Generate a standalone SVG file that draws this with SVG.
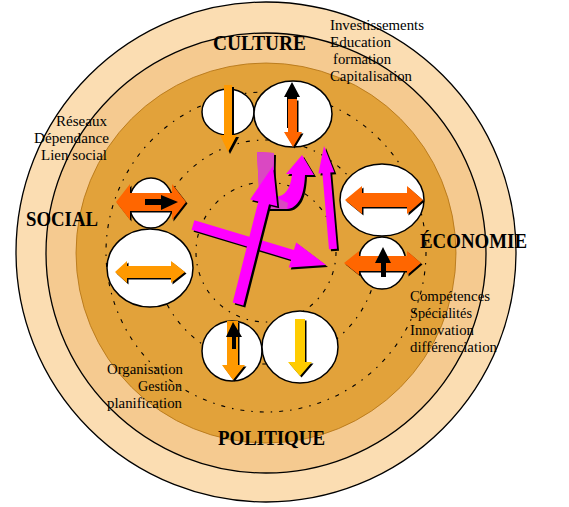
<svg xmlns="http://www.w3.org/2000/svg" xmlns:xlink="http://www.w3.org/1999/xlink" width="569" height="507" viewBox="0 0 569 507">
<style>
.ring{stroke:#000;stroke-width:1.3}
.bub{fill:#fff;stroke:#000;stroke-width:1.5}
.dash{fill:none;stroke:#000;stroke-width:1.1;stroke-dasharray:4 7 1.5 7}
.sh{fill:#000}
.title{font-family:"Liberation Serif","Times New Roman",serif;font-weight:bold;font-size:20px;fill:#000}
.small{font-family:"Liberation Serif","Times New Roman",serif;font-size:14px;fill:#000}
.red{fill:#FF6600}.org{fill:#FF9900}.yel{fill:#FFCC00}.mag{fill:#FF00FF}.blk{fill:#000}
</style>
<defs>
<polygon id="arC" points="116,202 130,184 130,193 172,193 172,184 186,202 172,220 172,211 130,211 130,220"/>
<polygon id="arCb" points="145,199 161,199 161,195 178,202 161,210 161,205 145,205"/>
<polygon id="arD" points="115,272 127,261 127,266 171,266 171,261 185,272 171,283 171,278 127,278 127,283"/>
<polygon id="arE" points="345,200 362,186 362,193 407,193 407,186 423,200 407,214 407,207 362,207 362,214"/>
<polygon id="arF" points="344,263 359,251 359,256 407,256 407,251 421,263 407,275 407,271 359,271 359,275"/>
<polygon id="arFb" points="383,247 391,263 386,263 386,277 381,277 381,263 375,263"/>
<polygon id="arA" points="224,85 232,85 232,135 237,135 228,152 220,135 224,135"/>
<polygon id="arBb" points="292,82 300,97 297,97 297,128 287,128 287,97 284,97"/>
<polygon id="arB" points="288,99 297,99 297,132 302,132 293,147 284,132 288,132"/>
<polygon id="arG" points="227,321 238,321 238,365 245,365 233,380 222,365 227,365"/>
<polygon id="arGb" points="233,322 242,337 236,337 236,349 232,349 232,337 226,337"/>
<polygon id="arH" points="295,319 305,319 305,362 312,362 300,376 288,362 295,362"/>
<polygon id="m1" points="194.4,220.2 293.9,250.1 296.2,242.4 326,265 288.8,267.4 291.1,259.7 191.6,229.8"/>
<path id="m2" d="M257,152 L274,153 L273,195 C280,200 291,192 292,174 L286,174 L302,155 L314,175 L305,175 C304,197 298,208 287,209 L260,209 Z"/>
<polygon id="m3" points="232.7,302.6 258.3,201.5 250.1,199.4 273,166 277.2,206.2 269,204.2 243.3,305.4"/>
<polygon id="m4" points="329,249.3 322.4,173.2 318.4,173.6 324,146 334.3,172.2 330.3,172.6 337,248.7"/>
</defs>

<g id="rings">
<circle class="ring" cx="266" cy="252" r="250" fill="#FBDDB2"/>
<circle class="ring" cx="266" cy="253" r="220" fill="#F5CA90"/>
<circle cx="266" cy="253" r="190" fill="#E2A23A" stroke="#B07010" stroke-width="0.8"/>
<circle class="dash" cx="266" cy="252" r="160"/>
<circle class="dash" cx="266" cy="252" r="112"/>
<circle class="dash" cx="266" cy="252" r="70"/>
</g>

<g id="node-culture-a">
<ellipse class="bub" cx="228" cy="112" rx="26" ry="23"/>
<use xlink:href="#arA" class="sh" x="2" y="2"/>
<use xlink:href="#arA" class="org"/>
</g>
<g id="node-culture-b">
<ellipse class="bub" cx="293" cy="114" rx="39" ry="33"/>
<use xlink:href="#arBb" class="blk"/>
<use xlink:href="#arB" class="sh" x="1.5" y="1.5"/>
<use xlink:href="#arB" class="red"/>
</g>
<g id="node-social-a">
<ellipse class="bub" cx="151" cy="203" rx="22" ry="25"/>
<use xlink:href="#arC" class="sh" x="1.5" y="1.5"/>
<use xlink:href="#arC" class="red"/>
<use xlink:href="#arCb" class="blk"/>
</g>
<g id="node-social-b">
<ellipse class="bub" cx="150" cy="268" rx="43" ry="39"/>
<use xlink:href="#arD" class="sh" x="1.5" y="1.5"/>
<use xlink:href="#arD" class="org"/>
</g>
<g id="node-economie-a">
<ellipse class="bub" cx="382" cy="200" rx="42" ry="36"/>
<use xlink:href="#arE" class="sh" x="1.5" y="1.5"/>
<use xlink:href="#arE" class="red"/>
</g>
<g id="node-economie-b">
<ellipse class="bub" cx="382" cy="263" rx="24" ry="26"/>
<use xlink:href="#arF" class="sh" x="1.5" y="1.5"/>
<use xlink:href="#arF" class="red"/>
<use xlink:href="#arFb" class="blk"/>
</g>
<g id="node-politique-a">
<ellipse class="bub" cx="232" cy="351" rx="30" ry="30"/>
<use xlink:href="#arG" class="sh" x="1.5" y="1.5"/>
<use xlink:href="#arG" class="org"/>
<use xlink:href="#arGb" class="blk"/>
</g>
<g id="node-politique-b">
<ellipse class="bub" cx="300" cy="347" rx="38" ry="36"/>
<use xlink:href="#arH" class="sh" x="1.5" y="1.5"/>
<use xlink:href="#arH" class="yel"/>
</g>

<g id="connectors">
<use xlink:href="#m1" class="sh" x="2" y="2"/>
<use xlink:href="#m1" class="mag"/>
<use xlink:href="#m2" class="sh" x="2" y="2"/>
<use xlink:href="#m2" class="mag"/>
<polygon points="257,152 274,153 273,196 288,203 287,209 260,209" fill="#DA48C2"/>
<use xlink:href="#m3" class="sh" x="2" y="2"/>
<use xlink:href="#m3" class="mag"/>
<use xlink:href="#m4" class="sh" x="2" y="2"/>
<use xlink:href="#m4" class="mag"/>
</g>

<g id="label-culture">
<text class="title" x="213" y="50" textLength="93" lengthAdjust="spacingAndGlyphs">CULTURE</text>
<text class="small" x="330" y="30" textLength="94" lengthAdjust="spacingAndGlyphs">Investissements</text>
<text class="small" x="330" y="47" textLength="61" lengthAdjust="spacingAndGlyphs">Education</text>
<text class="small" x="333" y="64" textLength="58" lengthAdjust="spacingAndGlyphs">formation</text>
<text class="small" x="330" y="81" textLength="82" lengthAdjust="spacingAndGlyphs">Capitalisation</text>
</g>
<g id="label-social">
<text class="title" x="26" y="226" textLength="72" lengthAdjust="spacingAndGlyphs">SOCIAL</text>
<text class="small" x="56" y="126" textLength="51" lengthAdjust="spacingAndGlyphs">Réseaux</text>
<text class="small" x="34" y="143" textLength="75" lengthAdjust="spacingAndGlyphs">Dépendance</text>
<text class="small" x="41" y="160" textLength="66" lengthAdjust="spacingAndGlyphs">Lien social</text>
</g>
<g id="label-economie">
<text class="title" x="420" y="248" textLength="107" lengthAdjust="spacingAndGlyphs">ÉCONOMIE</text>
<text class="small" x="410" y="301" textLength="80" lengthAdjust="spacingAndGlyphs">Compétences</text>
<text class="small" x="410" y="318" textLength="62" lengthAdjust="spacingAndGlyphs">Spécialités</text>
<text class="small" x="410" y="335" textLength="64" lengthAdjust="spacingAndGlyphs">Innovation</text>
<text class="small" x="410" y="352" textLength="87" lengthAdjust="spacingAndGlyphs">différenciation</text>
</g>
<g id="label-politique">
<text class="title" x="218" y="445" textLength="107" lengthAdjust="spacingAndGlyphs">POLITIQUE</text>
<text class="small" x="107" y="374" textLength="76" lengthAdjust="spacingAndGlyphs">Organisation</text>
<text class="small" x="138" y="391" textLength="44" lengthAdjust="spacingAndGlyphs">Gestion</text>
<text class="small" x="107" y="408" textLength="75" lengthAdjust="spacingAndGlyphs">planification</text>
</g>
</svg>
